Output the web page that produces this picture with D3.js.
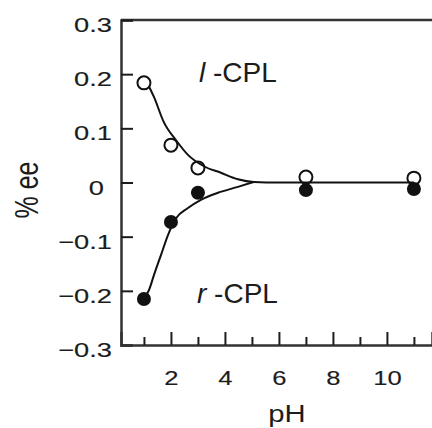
<!DOCTYPE html>
<html>
<head>
<meta charset="utf-8">
<script src="https://cdn.jsdelivr.net/npm/d3@7"></script>
<style>
  html, body { margin: 0; padding: 0; background: #fff; }
  svg { display: block; font-family: "Liberation Sans", Arial, sans-serif; }
</style>
</head>
<body>
<svg id="chart" width="432" height="428"></svg>
<script>
// ---- data ----
const pHValues = [1, 2, 3, 7, 11];
const eeLCPL = [0.184, 0.069, 0.027, 0.010, 0.008];
const eeRCPL = [-0.215, -0.073, -0.019, -0.014, -0.012];

const fitLpH = [1.2, 1.37, 1.74, 2.19, 2.63, 3.22, 3.85, 4.48, 5.07, 6, 8, 11];
const fitLee = [0.176, 0.158, 0.111, 0.078, 0.051, 0.030, 0.018, 0.006, 0.001, 0, 0, 0];
const fitRpH = [1.12, 1.19, 1.37, 1.63, 1.89, 2.19, 2.63, 3.11, 3.74, 4.48, 5.07];
const fitRee = [-0.205, -0.198, -0.171, -0.134, -0.097, -0.066, -0.047, -0.032, -0.019, -0.008, 0.001];

const yTicks = [-0.3, -0.2, -0.1, 0, 0.1, 0.2, 0.3];
const xMajorTicks = [2, 4, 6, 8, 10];
const xMinorTicks = [1, 3, 5, 7, 9, 11];
const xTitle = "pH";
const yTitle = "% ee";

// ---- layout ----
const svg = d3.select("#chart");
const ink = "#1c1c1c";
const mLeft = 121, mRight = 432, mTop = 20, mBottom = 345;

const x = d3.scaleLinear().domain([0.15, 11.67]).range([mLeft, mRight]);
const y = d3.scaleLinear().domain([-0.3, 0.3]).range([mBottom, mTop]);

// top frame line
svg.append("line")
  .attr("x1", mLeft).attr("x2", mRight).attr("y1", mTop).attr("y2", mTop)
  .attr("stroke", "#333").attr("stroke-width", 2.5);

// y axis
const fmtY = d => d === 0 ? "0" : d3.format(".1f")(d).replace("-", "\u2212");
const yAxis = svg.append("g").attr("transform", `translate(${mLeft},0)`)
  .call(d3.axisLeft(y).tickValues(yTicks).tickSize(-12).tickPadding(0).tickFormat(fmtY));
yAxis.select(".domain").attr("stroke", "#333").attr("stroke-width", 2.5);
yAxis.selectAll(".tick line").attr("stroke", ink).attr("stroke-width", 2);
yAxis.selectAll(".tick text")
  .attr("font-size", 21).attr("fill", ink)
  .attr("stroke", ink).attr("stroke-width", 0.15)
  .attr("text-anchor", "end")
  .attr("x", d => (d === 0 ? -17 : -9) / 1.3)
  .attr("dy", "0.55em")
  .attr("transform", "scale(1.3,1)");

// x axis (major + minor ticks, inward)
const xAxis = svg.append("g").attr("transform", `translate(0,${mBottom})`)
  .call(d3.axisBottom(x).tickValues(xMajorTicks).tickSize(-13).tickPadding(0).tickFormat(d3.format("d")));
xAxis.select(".domain").attr("stroke", "#333").attr("stroke-width", 2.5);
xAxis.selectAll(".tick line").attr("stroke", ink).attr("stroke-width", 2);
xAxis.selectAll(".tick text")
  .attr("font-size", 20).attr("fill", ink)
  .attr("stroke", ink).attr("stroke-width", 0.15)
  .attr("y", 40).attr("dy", 0)
  .attr("transform", "scale(1.28,1)");

const xMinor = svg.append("g").attr("transform", `translate(0,${mBottom})`)
  .call(d3.axisBottom(x).tickValues(xMinorTicks).tickSize(-8).tickFormat(""));
xMinor.select(".domain").remove();
xMinor.selectAll(".tick line").attr("stroke", ink).attr("stroke-width", 2);

// axis titles
svg.append("text")
  .attr("x", 287 / 1.22).attr("y", 422)
  .attr("transform", "scale(1.22,1)")
  .attr("text-anchor", "middle")
  .attr("font-size", 24).attr("fill", ink)
  .text(xTitle);

svg.append("text")
  .attr("transform", "translate(38,190) scale(1.35,1) rotate(-90)")
  .attr("text-anchor", "middle")
  .attr("font-size", 25).attr("fill", ink)
  .text(yTitle);

// fit curves
const line = d3.line().x(d => x(d[0])).y(d => y(d[1])).curve(d3.curveMonotoneX);
svg.append("path")
  .datum(fitLpH.map((p, i) => [p, fitLee[i]]))
  .attr("d", line).attr("fill", "none").attr("stroke", "#111").attr("stroke-width", 2);
svg.append("path")
  .datum(fitRpH.map((p, i) => [p, fitRee[i]]))
  .attr("d", line).attr("fill", "none").attr("stroke", "#111").attr("stroke-width", 2);

// markers
svg.append("g").selectAll("circle")
  .data(pHValues.map((p, i) => [p, eeRCPL[i]]))
  .join("circle")
  .attr("cx", d => x(d[0])).attr("cy", d => y(d[1])).attr("r", 7)
  .attr("fill", "#111");

svg.append("g").selectAll("circle")
  .data(pHValues.map((p, i) => [p, eeLCPL[i]]))
  .join("circle")
  .attr("cx", d => x(d[0])).attr("cy", d => y(d[1])).attr("r", 6.5)
  .attr("fill", "none").attr("stroke", "#111").attr("stroke-width", 2);

// series labels
const lab1 = svg.append("text").attr("x", 199).attr("y", 82)
  .attr("font-size", 28).attr("fill", ink);
lab1.append("tspan").attr("font-style", "italic").text("l");
lab1.append("tspan").text(" -CPL");

const lab2 = svg.append("text").attr("x", 197).attr("y", 303)
  .attr("font-size", 28).attr("fill", ink);
lab2.append("tspan").attr("font-style", "italic").text("r");
lab2.append("tspan").text(" -CPL");
</script>
</body>
</html>
